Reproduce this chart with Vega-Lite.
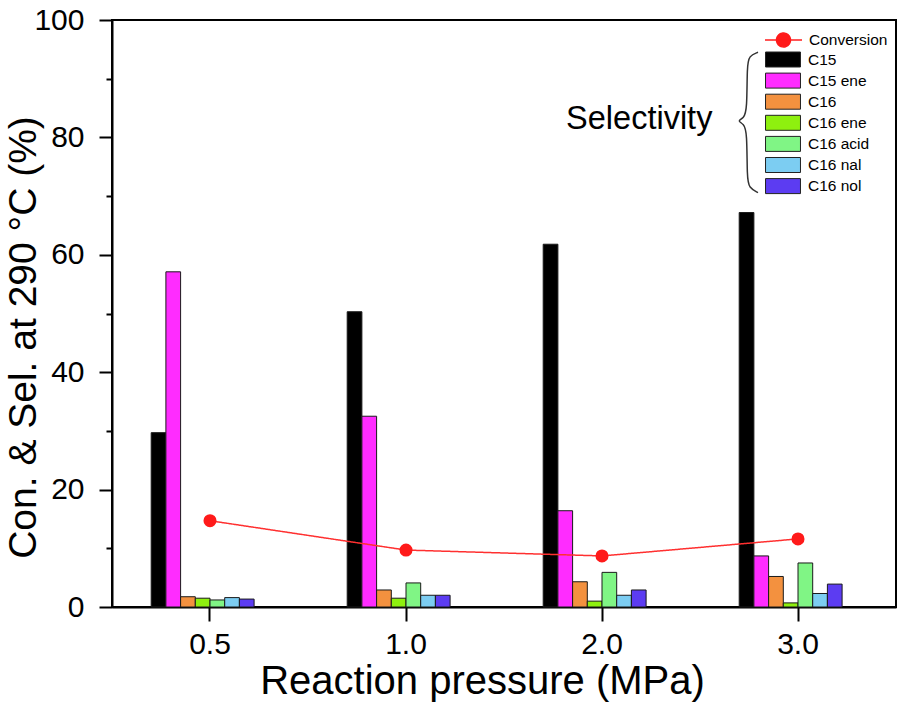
{
  "$schema": "https://vega.github.io/schema/vega-lite/v6.json",
  "width": 784,
  "height": 587,
  "autosize": {"type": "none"},
  "padding": {"left": 112, "top": 20, "right": 5, "bottom": 100},
  "background": "white",
  "datasets": {
    "sel": [
      {"pressure": "0.5", "series": "C15", "value": 29.7},
      {"pressure": "0.5", "series": "C15 ene", "value": 57.1},
      {"pressure": "0.5", "series": "C16", "value": 1.75},
      {"pressure": "0.5", "series": "C16 ene", "value": 1.5},
      {"pressure": "0.5", "series": "C16 acid", "value": 1.2},
      {"pressure": "0.5", "series": "C16 nal", "value": 1.6},
      {"pressure": "0.5", "series": "C16 nol", "value": 1.35},
      {"pressure": "1.0", "series": "C15", "value": 50.3},
      {"pressure": "1.0", "series": "C15 ene", "value": 32.5},
      {"pressure": "1.0", "series": "C16", "value": 2.9},
      {"pressure": "1.0", "series": "C16 ene", "value": 1.5},
      {"pressure": "1.0", "series": "C16 acid", "value": 4.1},
      {"pressure": "1.0", "series": "C16 nal", "value": 2.0},
      {"pressure": "1.0", "series": "C16 nol", "value": 2.0},
      {"pressure": "2.0", "series": "C15", "value": 61.8},
      {"pressure": "2.0", "series": "C15 ene", "value": 16.4},
      {"pressure": "2.0", "series": "C16", "value": 4.3},
      {"pressure": "2.0", "series": "C16 ene", "value": 1.0},
      {"pressure": "2.0", "series": "C16 acid", "value": 5.9},
      {"pressure": "2.0", "series": "C16 nal", "value": 2.0},
      {"pressure": "2.0", "series": "C16 nol", "value": 2.9},
      {"pressure": "3.0", "series": "C15", "value": 67.2},
      {"pressure": "3.0", "series": "C15 ene", "value": 8.7},
      {"pressure": "3.0", "series": "C16", "value": 5.2},
      {"pressure": "3.0", "series": "C16 ene", "value": 0.7},
      {"pressure": "3.0", "series": "C16 acid", "value": 7.5},
      {"pressure": "3.0", "series": "C16 nal", "value": 2.3},
      {"pressure": "3.0", "series": "C16 nol", "value": 3.9}
    ],
    "conv": [
      {"pressure": "0.5", "label": "Conversion", "conv": 14.7},
      {"pressure": "1.0", "label": "Conversion", "conv": 9.7},
      {"pressure": "2.0", "label": "Conversion", "conv": 8.7},
      {"pressure": "3.0", "label": "Conversion", "conv": 11.6}
    ],
    "brace": [
      {"i": 0, "bx": 3.296, "by": 94.5},
      {"i": 1, "bx": 3.25, "by": 93.9},
      {"i": 2, "bx": 3.24, "by": 92.2},
      {"i": 3, "bx": 3.24, "by": 84.7},
      {"i": 4, "bx": 3.224, "by": 83.3},
      {"i": 5, "bx": 3.189, "by": 82.8},
      {"i": 6, "bx": 3.224, "by": 82.3},
      {"i": 7, "bx": 3.24, "by": 80.9},
      {"i": 8, "bx": 3.24, "by": 73.1},
      {"i": 9, "bx": 3.25, "by": 71.4},
      {"i": 10, "bx": 3.296, "by": 70.6}
    ],
    "note": [{"nx": 2.69, "ny": 83.1, "text": "Selectivity"}]
  },
  "layer": [
    {
      "layer": [
        {
          "data": {"name": "sel"},
          "mark": {"type": "bar", "stroke": "#1a1a1a", "strokeWidth": 1},
          "encoding": {
            "x": {
              "field": "pressure",
              "type": "nominal",
              "sort": ["0.5", "1.0", "2.0", "3.0"],
              "scale": {"paddingInner": 0.4, "paddingOuter": 0.2},
              "axis": {
                "title": "Reaction pressure (MPa)",
                "titleFontSize": 40,
                "titleFontWeight": "normal",
                "titleColor": "black",
                "titleX": 370,
                "titleY": 86,
                "titleBaseline": "alphabetic",
                "labelAngle": 0,
                "labelFontSize": 30,
                "labelColor": "black",
                "labelPadding": 8,
                "tickSize": 14,
                "tickWidth": 2,
                "tickColor": "black",
                "domainColor": "black",
                "domainWidth": 2,
                "grid": false
              }
            },
            "xOffset": {
              "field": "series",
              "type": "nominal",
              "scale": {
                "domain": ["C15", "C15 ene", "C16", "C16 ene", "C16 acid", "C16 nal", "C16 nol", "slot"],
                "paddingInner": 0,
                "paddingOuter": 0
              }
            },
            "y": {
              "field": "value",
              "type": "quantitative",
              "scale": {"domain": [0, 100], "nice": false},
              "axis": {
                "title": "Con. & Sel. at 290 °C (%)",
                "titleFontSize": 39,
                "titleFontWeight": "normal",
                "titleColor": "black",
                "titleX": -77,
                "titleY": 317,
                "titleBaseline": "alphabetic",
                "values": [0, 10, 20, 30, 40, 50, 60, 70, 80, 90, 100],
                "labelExpr": "datum.value % 20 === 0 ? datum.label : ''",
                "labelFontSize": 30,
                "labelColor": "black",
                "labelPadding": 15,
                "tickSize": {"condition": {"test": "datum.value % 20 === 0", "value": 13}, "value": 6},
                "tickWidth": 2,
                "tickColor": "black",
                "domainColor": "black",
                "domainWidth": 2,
                "grid": false
              }
            },
            "fill": {
              "field": "series",
              "type": "nominal",
              "scale": {
                "domain": ["C15", "C15 ene", "C16", "C16 ene", "C16 acid", "C16 nal", "C16 nol"],
                "range": ["#000000", "#ff2cff", "#f3913f", "#8ef00f", "#80f585", "#7ccdf2", "#5c3cf2"]
              },
              "legend": {
                "title": null,
                "orient": "none",
                "legendX": 663,
                "legendY": 31.5,
                "padding": 0,
                "symbolType": "M-2.33,-1H2.33V1H-2.33Z",
                "symbolSize": 225,
                "symbolStrokeColor": "#222222",
                "symbolStrokeWidth": 1,
                "symbolOpacity": 1,
                "labelFontSize": 15.5,
                "labelColor": "black",
                "labelOffset": 17,
                "rowPadding": 1.1
              }
            }
          }
        },
        {
          "data": {"name": "conv"},
          "mark": {"type": "line", "color": "#ff3030", "strokeWidth": 1.5},
          "encoding": {
            "x": {"field": "pressure", "type": "nominal", "sort": ["0.5", "1.0", "2.0", "3.0"]},
            "y": {"field": "conv", "type": "quantitative"},
            "strokeDash": {
              "field": "label",
              "type": "nominal",
              "scale": {"domain": ["Conversion"], "range": [[1, 0]]},
              "legend": {
                "title": null,
                "orient": "none",
                "legendX": 663,
                "legendY": 11.5,
                "padding": 0,
                "symbolType": "M-2.47,0H2.47M0.93,0A0.93,0.93,0,1,1,-0.93,0A0.93,0.93,0,1,1,0.93,0Z",
                "symbolSize": 225,
                "symbolStrokeColor": "#ff1a1a",
                "symbolFillColor": "#ff1a1a",
                "symbolStrokeWidth": 1.5,
                "labelFontSize": 15.5,
                "labelColor": "black",
                "labelOffset": 17
              }
            }
          }
        },
        {
          "data": {"name": "conv"},
          "mark": {"type": "circle", "color": "#ff1a1a", "size": 170, "opacity": 1},
          "encoding": {
            "x": {"field": "pressure", "type": "nominal", "sort": ["0.5", "1.0", "2.0", "3.0"]},
            "y": {"field": "conv", "type": "quantitative"}
          }
        }
      ]
    },
    {
      "layer": [
        {
          "data": {"name": "brace"},
          "mark": {"type": "line", "color": "#333333", "strokeWidth": 1.5, "interpolate": "basis"},
          "encoding": {
            "x": {"field": "bx", "type": "quantitative", "scale": {"domain": [0, 4], "nice": false, "zero": false}, "axis": null},
            "y": {"field": "by", "type": "quantitative", "scale": {"domain": [0, 100], "nice": false}, "axis": null},
            "order": {"field": "i", "type": "quantitative"}
          }
        },
        {
          "data": {"name": "note"},
          "mark": {"type": "text", "fontSize": 32.5, "color": "black", "align": "center", "baseline": "middle"},
          "encoding": {
            "x": {"field": "nx", "type": "quantitative"},
            "y": {"field": "ny", "type": "quantitative"},
            "text": {"field": "text"}
          }
        }
      ]
    }
  ],
  "resolve": {"scale": {"x": "independent", "y": "independent"}},
  "config": {
    "font": "Liberation Sans",
    "view": {"stroke": "black", "strokeWidth": 2}
  }
}
